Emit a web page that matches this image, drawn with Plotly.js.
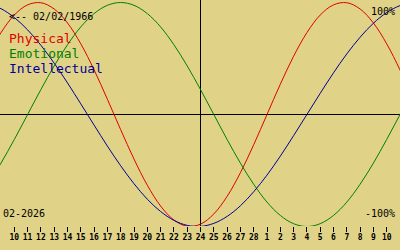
<!DOCTYPE html>
<html><head><meta charset="utf-8">
<script src="https://cdn.plot.ly/plotly-3.0.1.min.js"></script>
<style>html,body{margin:0;padding:0;background:#e0d388;}#chart{width:400px;height:250px;}</style>
</head><body><div id="chart"></div>
<script>
// day index: -1 = Feb 9 ... 0 = Feb 10 ... 28 = Mar 10
const dayIndex = [-2,-1,0,1,2,3,4,5,6,7,8,9,10,11,12,13,14,15,16,17,18,19,20,21,22,23,24,25,26,27,28,29,30];
const physical = [0.520,0.731,0.888,0.979,0.998,0.942,0.817,0.631,0.398,0.136,-0.136,-0.398,-0.631,-0.817,-0.942,-0.998,-0.979,-0.888,-0.731,-0.520,-0.270,0,0.270,0.520,0.731,0.888,0.979,0.998,0.942,0.817,0.631,0.398,0.136];
const emotional = [-0.623,-0.434,-0.223,0,0.223,0.434,0.623,0.782,0.901,0.975,1.0,0.975,0.901,0.782,0.623,0.434,0.223,0,-0.223,-0.434,-0.623,-0.782,-0.901,-0.975,-1.0,-0.975,-0.901,-0.782,-0.623,-0.434,-0.223,0,0.223];
const intellectual = [0.990,0.945,0.866,0.756,0.618,0.458,0.282,0.095,-0.095,-0.282,-0.458,-0.618,-0.756,-0.866,-0.945,-0.990,-0.999,-0.972,-0.910,-0.815,-0.690,-0.541,-0.372,-0.189,0,0.189,0.372,0.541,0.690,0.815,0.910,0.972,0.999];
const tickIdx = [0,1,2,3,4,5,6,7,8,9,10,11,12,13,14,15,16,17,18,19,20,21,22,23,24,25,26,27,28];
const tickLabels = ['10','11','12','13','14','15','16','17','18','19','20','21','22','23','24','25','26','27','28','1','2','3','4','5','6','7','8','9','10'];
const todayIdx = 14;
const seriesNames = ['Physical','Emotional','Intellectual'];
const colors = ['#e00000','#008000','#000098'];
const birthLabel = '<-- 02/02/1966';
const monthLabel = '02-2026';

const data = [physical, emotional, intellectual].map((ys,k)=>({
  x: dayIndex, y: ys, type:'scatter', mode:'lines',
  line:{color:colors[k], width:1, shape:'spline'}, hoverinfo:'skip'
}));

const H = 226; // plot area height
const py = p => (H - p)/H;
const mono = 'DejaVu Sans Mono, monospace';
const ann = (text, x, y, xanchor, size, color) => ({
  text, xref:'paper', yref:'paper', x: x/400, y: py(y), xanchor, yanchor:'middle',
  showarrow:false, font:{family:mono, size, color}, borderpad:0, borderwidth:0
});

const layout = {
  width:400, height:250,
  margin:{l:0,r:0,t:0,b:24,pad:0},
  paper_bgcolor:'#e0d388', plot_bgcolor:'#e0d388',
  showlegend:false,
  xaxis:{range:[-1.0752,29.0], tickmode:'array', tickvals:tickIdx, ticktext:tickLabels,
    ticks:'outside', ticklen:5, tickwidth:1, tickcolor:'#000', showgrid:false, zeroline:false,
    showline:false, ticklabelstandoff:-2,
    tickfont:{family:mono, size:8, color:'#000', weight:'bold'}, fixedrange:true},
  yaxis:{range:[-0.9955,1.0223], showticklabels:false, ticks:'', showgrid:false, zeroline:false, fixedrange:true},
  shapes:[
    {type:'line', xref:'paper', x0:0, x1:1, yref:'y', y0:0, y1:0, line:{color:'#000', width:1}, layer:'below'},
    {type:'line', xref:'x', x0:todayIdx, x1:todayIdx, yref:'paper', y0:0, y1:1, line:{color:'#000', width:1}, layer:'below'}
  ],
  annotations:[
    ann(birthLabel, 9, 16, 'left', 10, '#000'),
    ann(seriesNames[0], 9, 38, 'left', 13, colors[0]),
    ann(seriesNames[1], 9, 53, 'left', 13, colors[1]),
    ann(seriesNames[2], 9, 68, 'left', 13, colors[2]),
    ann('100%', 395, 12, 'right', 10, '#000'),
    ann('-100%', 395, 213, 'right', 10, '#000'),
    ann(monthLabel, 3, 213, 'left', 10, '#000')
  ]
};
Plotly.newPlot('chart', data, layout, {staticPlot:true, displayModeBar:false});
</script></body></html>
